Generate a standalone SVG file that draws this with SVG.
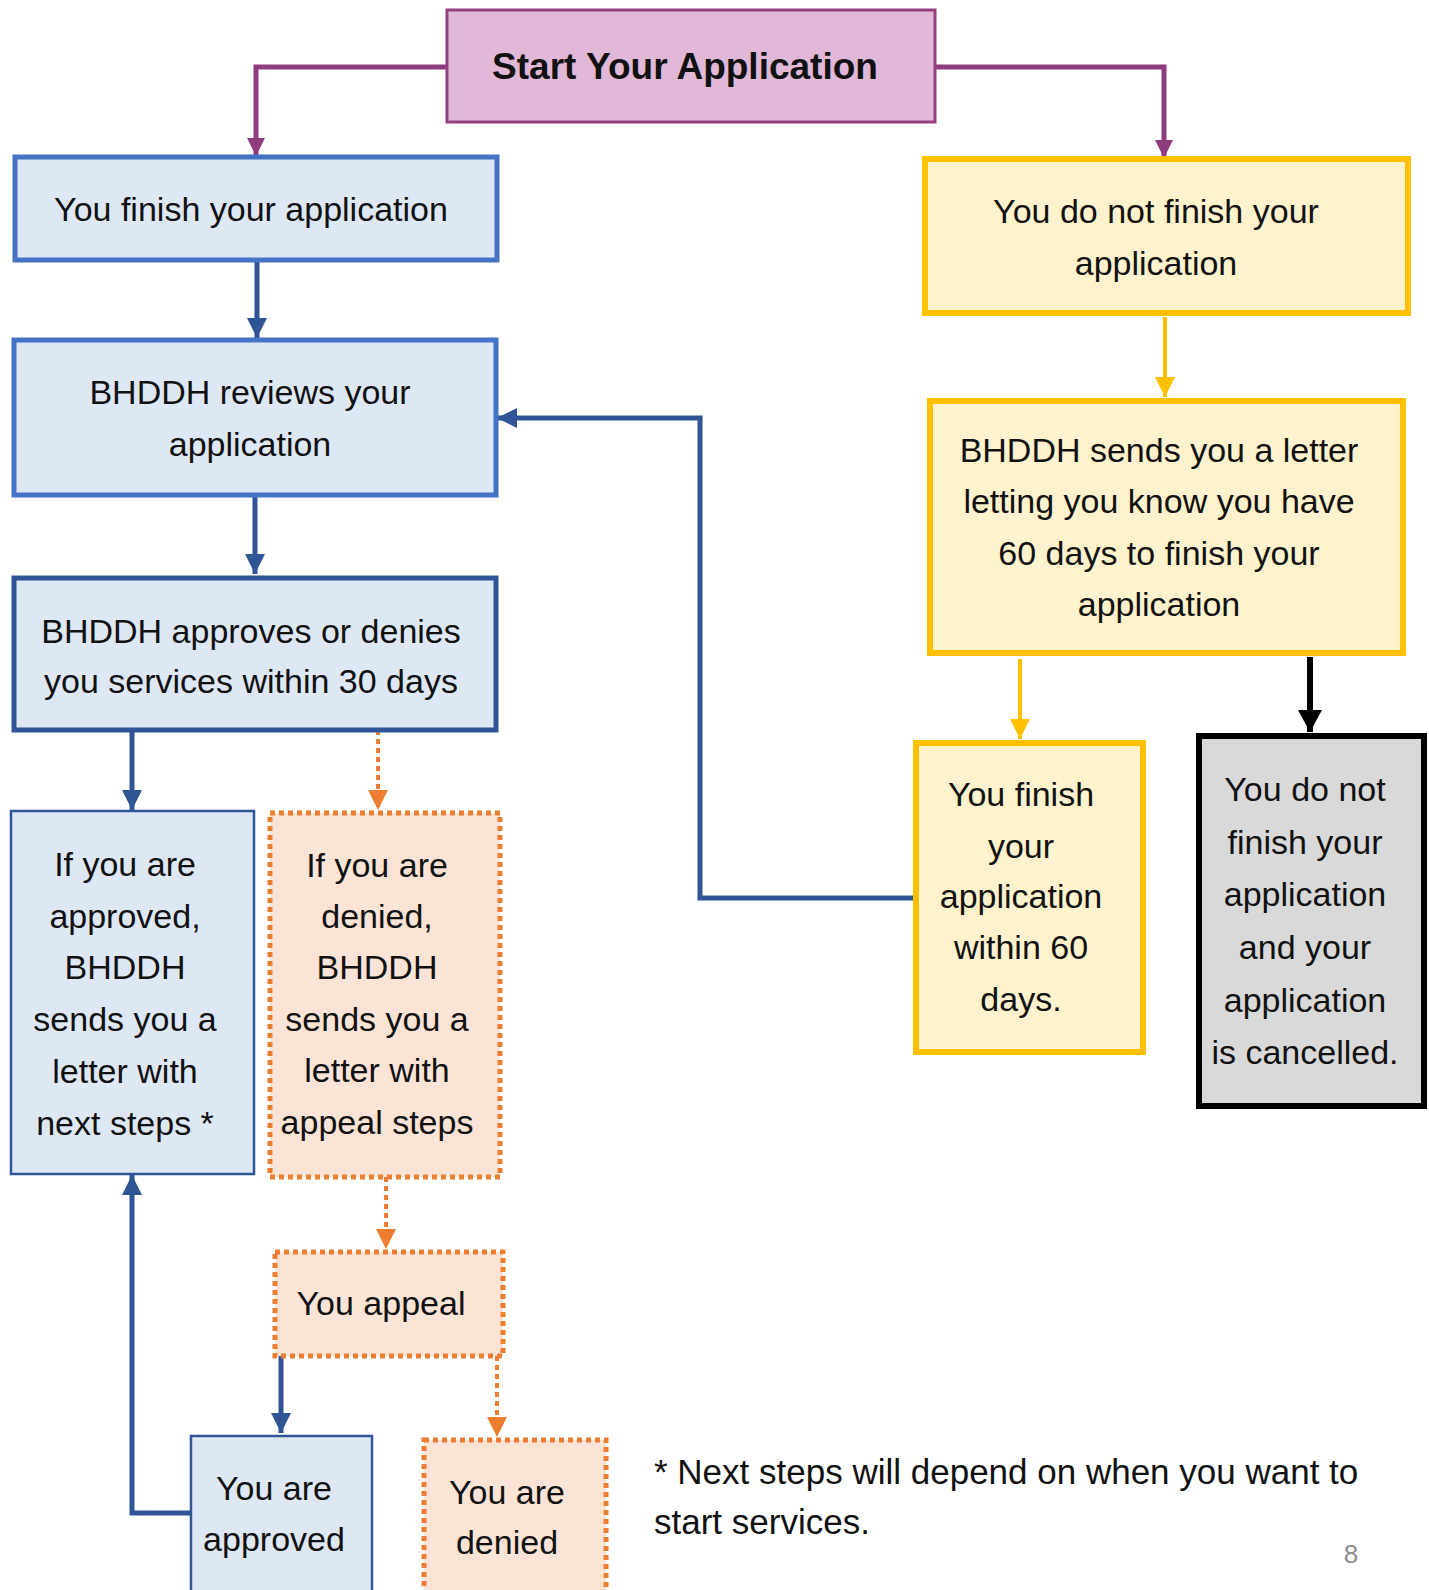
<svg xmlns="http://www.w3.org/2000/svg" width="1429" height="1590" viewBox="0 0 1429 1590">
<style>
text{font-family:"Liberation Sans",Arial,sans-serif;font-size:34px;fill:#111;text-anchor:middle}
.title{font-weight:bold;font-size:37px}
.blue{fill:#DEE8F5;stroke:#4472C4;stroke-width:5}
.blued{fill:#DEE8F5;stroke:#2F5597;stroke-width:5}
.bluet{fill:#DEE8F5;stroke:#2F5597;stroke-width:2.5}
.yel{fill:#FFF2CC;stroke:#FFC000;stroke-width:6}
.gray{fill:#D9D9D9;stroke:#000;stroke-width:6}
.org{fill:#FBE4D5;stroke:#ED7D31;stroke-width:5;stroke-dasharray:5 4}
.c{fill:none}
.cp{stroke:#8E3B80;stroke-width:5}
.cb{stroke:#2F5597;stroke-width:5}
.cy{stroke:#FFC000;stroke-width:4}
.ck{stroke:#000;stroke-width:6}
.co{stroke:#ED7D31;stroke-width:4;stroke-dasharray:5 4}
</style>
<defs>
<marker id="ap" markerUnits="userSpaceOnUse" markerWidth="20" markerHeight="20" refX="18" refY="9" orient="auto"><path d="M0,0 L18,9 L0,18 z" fill="#8E3B80"/></marker>
<marker id="ab" markerUnits="userSpaceOnUse" markerWidth="22" markerHeight="22" refX="20" refY="10" orient="auto"><path d="M0,0 L20,10 L0,20 z" fill="#2F5597"/></marker>
<marker id="ay" markerUnits="userSpaceOnUse" markerWidth="22" markerHeight="22" refX="20" refY="10" orient="auto"><path d="M0,0 L20,10 L0,20 z" fill="#FFC000"/></marker>
<marker id="ak" markerUnits="userSpaceOnUse" markerWidth="24" markerHeight="26" refX="22" refY="12" orient="auto"><path d="M0,0 L22,12 L0,24 z" fill="#000"/></marker>
<marker id="ao" markerUnits="userSpaceOnUse" markerWidth="22" markerHeight="22" refX="20" refY="10" orient="auto"><path d="M0,0 L20,10 L0,20 z" fill="#ED7D31"/></marker>
</defs>
<rect width="1429" height="1590" fill="#fff"/>

<g id="connectors" class="c">
<path class="c cp" d="M447,67 H256 V156" marker-end="url(#ap)"/>
<path class="c cp" d="M935,67 H1164 V158" marker-end="url(#ap)"/>
<path class="c cb" d="M257,260 V338" marker-end="url(#ab)"/>
<path class="c cb" d="M255,495 V574" marker-end="url(#ab)"/>
<path class="c cb" d="M132,730 V810" marker-end="url(#ab)"/>
<path class="c co" d="M378,730 V810" marker-end="url(#ao)"/>
<path class="c co" d="M386,1177 V1249" marker-end="url(#ao)"/>
<path class="c cb" d="M281,1356 V1433" marker-end="url(#ab)"/>
<path class="c co" d="M497,1356 V1437" marker-end="url(#ao)"/>
<path class="c cb" d="M191,1513 H132 V1175" marker-end="url(#ab)"/>
<path class="c cb" d="M915,898 H700 V418 H497" marker-end="url(#ab)"/>
<path class="c cy" d="M1165,317 V397" marker-end="url(#ay)"/>
<path class="c cy" d="M1020,659 V739" marker-end="url(#ay)"/>
<path class="c ck" d="M1310,657 V732" marker-end="url(#ak)"/>
</g>

<g id="start">
<rect x="447" y="10" width="488" height="112" fill="#E1B8D8" stroke="#953F83" stroke-width="3"/>
<text class="title" x="685" y="79">Start Your Application</text>
</g>

<g id="finish">
<rect class="blue" x="15" y="157" width="482" height="103"/>
<text x="251" y="221">You finish your application</text>
</g>

<g id="reviews">
<rect class="blue" x="14" y="340" width="482" height="155"/>
<text x="250" y="404">BHDDH reviews your</text>
<text x="250" y="456">application</text>
</g>

<g id="approves">
<rect class="blued" x="14" y="578" width="482" height="152"/>
<text x="251" y="643">BHDDH approves or denies</text>
<text x="251" y="693">you services within 30 days</text>
</g>

<g id="approved-letter">
<rect class="bluet" x="11" y="811" width="243" height="363"/>
<text x="125" y="876">If you are</text>
<text x="125" y="928">approved,</text>
<text x="125" y="979">BHDDH</text>
<text x="125" y="1031">sends you a</text>
<text x="125" y="1083">letter with</text>
<text x="125" y="1135">next steps *</text>
</g>

<g id="denied-letter">
<rect class="org" x="270" y="813" width="230" height="364"/>
<text x="377" y="877">If you are</text>
<text x="377" y="928">denied,</text>
<text x="377" y="979">BHDDH</text>
<text x="377" y="1031">sends you a</text>
<text x="377" y="1082">letter with</text>
<text x="377" y="1134">appeal steps</text>
</g>

<g id="appeal">
<rect class="org" x="275" y="1252" width="228" height="104"/>
<text x="381" y="1315">You appeal</text>
</g>

<g id="you-approved">
<rect class="bluet" x="191" y="1436" width="181" height="170"/>
<text x="274" y="1500">You are</text>
<text x="274" y="1551">approved</text>
</g>

<g id="you-denied">
<rect class="org" x="424" y="1440" width="182" height="170"/>
<text x="507" y="1504">You are</text>
<text x="507" y="1554">denied</text>
</g>

<g id="not-finish">
<rect class="yel" x="925" y="159" width="483" height="154"/>
<text x="1156" y="223">You do not finish your</text>
<text x="1156" y="275">application</text>
</g>

<g id="letter-60">
<rect class="yel" x="930" y="401" width="473" height="252"/>
<text x="1159" y="462">BHDDH sends you a letter</text>
<text x="1159" y="513">letting you know you have</text>
<text x="1159" y="565">60 days to finish your</text>
<text x="1159" y="616">application</text>
</g>

<g id="finish-60">
<rect class="yel" x="916" y="743" width="227" height="309"/>
<text x="1021" y="806">You finish</text>
<text x="1021" y="858">your</text>
<text x="1021" y="908">application</text>
<text x="1021" y="959">within 60</text>
<text x="1021" y="1011">days.</text>
</g>

<g id="cancelled">
<rect class="gray" x="1199" y="736" width="225" height="370"/>
<text x="1305" y="801">You do not</text>
<text x="1305" y="854">finish your</text>
<text x="1305" y="906">application</text>
<text x="1305" y="959">and your</text>
<text x="1305" y="1012">application</text>
<text x="1305" y="1064">is cancelled.</text>
</g>

<g id="footnote">
<text x="654" y="1484" style="text-anchor:start;font-size:35px">* Next steps will depend on when you want to</text>
<text x="654" y="1534" style="text-anchor:start;font-size:35px">start services.</text>
<text x="1351" y="1563" style="font-size:26px;fill:#8c8c8c">8</text>
</g>
</svg>
